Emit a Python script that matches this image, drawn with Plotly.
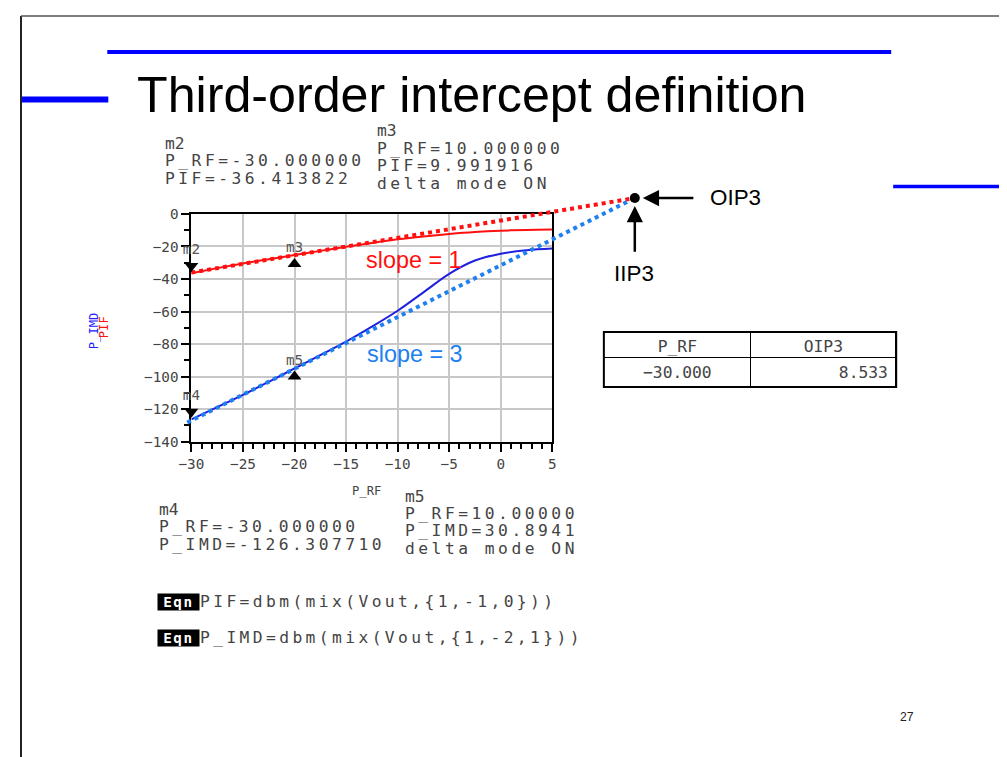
import plotly.graph_objects as go

# Figure size and the measured placement of the figure in the photographed page
FW, FH = 1007, 757
SX, SY = 0.982, 0.979        # page-pixels per figure-pixel
OFX, OFY = 20.8, 16.0        # page position of the figure origin

# ---------------- data ----------------
p_rf = [-30, -27.5, -25, -22.5, -20, -17.5, -15, -12.5, -10, -7.5, -5, -2.5, 0, 2.5, 5]
pif = [-36.4, -33.3, -30.4, -27.8, -25.3, -22.7, -20.2, -17.8, -15.6, -13.8, -12.3, -11.1, -10.3, -9.8, -9.6]
p_imd = [-126.3, -118.8, -111.2, -103.2, -95.0, -86.8, -78.5, -69.3, -59.5, -48.2, -36.8, -28.6, -24.4, -22.3, -21.3]

fit1_x = [-30.0, 13.0]
fit1_y = [-36.0, 9.8]
fit3_x = [-30.4, 13.0]
fit3_y = [-128.3, 9.8]
ip3_x = [13.0]
ip3_y = [9.8]

marker_names = ["m2", "m3", "m4", "m5"]
marker_x = [-30, -20, -30, -20]
marker_y = [-32.0, -30.7, -121.6, -100.0]
marker_symbols = ["triangle-down", "triangle-up", "triangle-down", "triangle-up"]

x_ticks = [-30, -25, -20, -15, -10, -5, 0, 5]
y_ticks = [0, -20, -40, -60, -80, -100, -120, -140]

table_header = ["P_RF", "OIP3"]
table_p_rf = [-30.000]
table_oip3 = [8.533]

m2_lines = ["m2", "P_RF=-30.000000", "PIF=-36.413822"]
m3_lines = ["m3", "P_RF=10.000000", "PIF=9.991916", "delta mode ON"]
m4_lines = ["m4", "P_RF=-30.000000", "P_IMD=-126.307710"]
m5_lines = ["m5", "P_RF=10.00000", "P_IMD=30.8941", "delta mode ON"]
eqn_lines = ["PIF=dbm(mix(Vout,{1,-1,0}))", "P_IMD=dbm(mix(Vout,{1,-2,1}))"]

title_text = "Third-order intercept definition"
page_number = "27"

# ---------------- styling / geometry ----------------
MONO = "DejaVu Sans Mono"
SANS = "Liberation Sans, Arial, sans-serif"
RED = "#ff1010"
BLUE = "#2020e0"
DOTBLUE = "#2080f0"
TXT = "#444444"

PL, PR, PT, PB = 191, 551.5, 214, 441.7      # plot frame, page pixels
EXL, EXR, EYT = 178, 665, 178                 # extended (overlay) area
sx = (PR - PL) / (x_ticks[-1] - x_ticks[0])
sy = (PB - PT) / (y_ticks[0] - y_ticks[-1])


def px(x):
    return min(max((x - OFX) / SX / FW, 0), 1)


def py(y):
    return min(max(1 - (y - OFY) / SY / FH, 0), 1)


def fs(s):
    return round(s / SX, 1)


def ads(s, ls=3.5):
    return f'<span style="letter-spacing:{ls}px">{s}</span>'


fig = go.Figure()

fig.add_trace(go.Scatter(x=p_rf, y=pif, mode="lines", line=dict(color=RED, width=2, shape="spline"),
                         xaxis="x", yaxis="y", showlegend=False))
fig.add_trace(go.Scatter(x=p_rf, y=p_imd, mode="lines", line=dict(color=BLUE, width=2, shape="spline"),
                         xaxis="x", yaxis="y", showlegend=False))

fig.add_trace(go.Scatter(x=fit1_x, y=fit1_y, mode="lines", line=dict(color=RED, width=4, dash="dot"),
                         xaxis="x2", yaxis="y2", showlegend=False))
fig.add_trace(go.Scatter(x=fit3_x, y=fit3_y, mode="lines", line=dict(color=DOTBLUE, width=4, dash="dot"),
                         xaxis="x2", yaxis="y2", showlegend=False))
fig.add_trace(go.Scatter(x=ip3_x, y=ip3_y, mode="markers", marker=dict(color="black", size=10),
                         xaxis="x2", yaxis="y2", cliponaxis=False, showlegend=False))
fig.add_trace(go.Scatter(x=marker_x, y=marker_y, mode="markers+text", text=marker_names,
                         textposition="top center",
                         textfont=dict(family=MONO, size=fs(14), color="#555555"),
                         marker=dict(color="black", size=12, symbol=marker_symbols),
                         xaxis="x2", yaxis="y2", cliponaxis=False, showlegend=False))

fig.add_trace(go.Table(
    domain=dict(x=[px(603), px(895)], y=[py(387), py(332)]),
    columnwidth=[147, 145],
    header=dict(values=table_header, height=round(25 / SY), align="center",
                line=dict(color="black", width=1), fill=dict(color="white"),
                font=dict(family=MONO, size=fs(16), color=TXT)),
    cells=dict(values=[[f"{v:.3f}".replace("-", "\u2212") for v in table_p_rf],
                       [f"{v:.3f}" for v in table_oip3]],
               height=round(30 / SY), align=["center", "right"],
               line=dict(color="black", width=1), fill=dict(color="white"),
               font=dict(family=MONO, size=fs(16), color=TXT)),
))

axis_common = dict(
    showgrid=True, gridcolor="#c8c8c8", gridwidth=2, zeroline=False,
    showline=True, linecolor="black", linewidth=2, mirror=True,
    ticks="outside", ticklen=8, tickwidth=2, tickcolor="black",
    tickfont=dict(family=MONO, size=fs(14), color=TXT),
)

fig.update_layout(
    width=FW, height=FH, margin=dict(l=0, r=0, t=0, b=0),
    paper_bgcolor="white", plot_bgcolor="rgba(0,0,0,0)",
    xaxis=dict(domain=[px(PL), px(PR)], range=[x_ticks[0], x_ticks[-1]], tickvals=x_ticks,
               minor=dict(dtick=1, ticks="outside", ticklen=5, tickwidth=1.5, tickcolor="black", showgrid=False),
               anchor="y", **axis_common),
    yaxis=dict(domain=[py(PB), py(PT)], range=[y_ticks[-1], y_ticks[0]], tickvals=y_ticks,
               minor=dict(dtick=10, ticks="outside", ticklen=5, tickwidth=1.5, tickcolor="black", showgrid=False),
               anchor="x", **axis_common),
    xaxis2=dict(domain=[px(EXL), px(EXR)],
                range=[x_ticks[0] + (EXL - PL) / sx, x_ticks[0] + (EXR - PL) / sx],
                visible=False, anchor="y2", fixedrange=True),
    yaxis2=dict(domain=[py(PB), py(EYT)],
                range=[y_ticks[-1], y_ticks[0] + (PT - EYT) / sy],
                visible=False, anchor="x2", fixedrange=True),
)

ann = []
ann.append(dict(text=title_text, x=px(135), y=py(95), xanchor="left", yanchor="middle",
                font=dict(family=SANS, size=fs(49.3), color="black")))
ann.append(dict(text=page_number, x=px(906), y=py(717), xanchor="center", yanchor="middle",
                font=dict(family=SANS, size=fs(12), color="#222222")))

ann.append(dict(text="slope = 1", x=-8.45, y=-28.5, xref="x", yref="y", xanchor="center", yanchor="middle",
                font=dict(family=SANS, size=fs(23), color=RED)))
ann.append(dict(text="slope = 3", x=-8.3, y=-85.8, xref="x", yref="y", xanchor="center", yanchor="middle",
                font=dict(family=SANS, size=fs(23), color=DOTBLUE)))

ann.append(dict(text="", x=ip3_x[0], y=ip3_y[0], xref="x2", yref="y2", showarrow=True,
                ax=59 / SX, ay=0, arrowhead=2, arrowsize=1.3, arrowwidth=2.5, arrowcolor="black", standoff=8))
ann.append(dict(text="", x=ip3_x[0], y=ip3_y[0], xref="x2", yref="y2", showarrow=True,
                ax=0, ay=54 / SY, arrowhead=2, arrowsize=1.3, arrowwidth=2.5, arrowcolor="black", standoff=8))
ann.append(dict(text="OIP3", x=px(707), y=py(198), xanchor="left", yanchor="middle",
                font=dict(family=SANS, size=fs(22), color="black")))
ann.append(dict(text="IIP3", x=px(633), y=py(274), xanchor="center", yanchor="middle",
                font=dict(family=SANS, size=fs(22), color="black")))

ann.append(dict(text="P_RF", x=px(366), y=py(491), xanchor="center", yanchor="middle",
                font=dict(family=MONO, size=fs(12), color=TXT)))
ann.append(dict(text="P_IMD", x=px(94), y=py(331), xanchor="center", yanchor="middle", textangle=-90,
                font=dict(family=MONO, size=fs(12), color="#2020ff")))
ann.append(dict(text="PIF", x=px(104), y=py(327), xanchor="center", yanchor="middle", textangle=-90,
                font=dict(family=MONO, size=fs(12), color=RED)))


def block(lines, x0, ys, size=16):
    for s, yy in zip(lines, ys):
        ann.append(dict(text=ads(s) if len(s) > 2 else s, x=px(x0), y=py(yy), xanchor="left",
                        yanchor="middle", align="left", borderpad=0,
                        font=dict(family=MONO, size=fs(size), color=TXT)))


block(m2_lines, 164, [144, 160.5, 178.5])
block(m3_lines, 375, [131, 149, 166, 184])
block(m4_lines, 158, [510, 527, 545])
block(m5_lines, 403, [497, 514, 531, 549])

for s, yy in zip(eqn_lines, [602, 638]):
    ann.append(dict(text="<b>" + ads("Eqn", 1.5) + "</b>", x=px(157), y=py(yy), xanchor="left", yanchor="middle",
                    bgcolor="black", borderpad=0, width=40 / SX, height=16 / SY,
                    font=dict(family=MONO, size=fs(14), color="white")))
    ann.append(dict(text=ads(s, 3.4), x=px(199), y=py(yy), xanchor="left", yanchor="middle", align="left",
                    borderpad=0, font=dict(family=MONO, size=fs(16), color=TXT)))

for a in ann:
    a.setdefault("xref", "paper")
    a.setdefault("yref", "paper")
    a.setdefault("showarrow", False)
fig.update_layout(annotations=ann)

shapes = [
    dict(type="line", xref="paper", yref="paper", x0=px(107), x1=px(890), y0=py(52), y1=py(52),
         line=dict(color="#0000ff", width=4)),
    dict(type="line", xref="paper", yref="paper", x0=px(8), x1=px(108), y0=py(99.5), y1=py(99.5),
         line=dict(color="#0000ff", width=6)),
    dict(type="line", xref="paper", yref="paper", x0=px(892), x1=px(1007), y0=py(186.5), y1=py(186.5),
         line=dict(color="#0000ff", width=3.5)),
    dict(type="line", xref="paper", yref="paper", x0=px(7), x1=px(7), y0=0, y1=1,
         line=dict(color="#222222", width=2)),
    dict(type="line", xref="paper", yref="paper", x0=px(7), x1=px(1007), y0=py(1), y1=py(1),
         line=dict(color="#555555", width=1.5)),
    dict(type="rect", xref="paper", yref="paper", x0=px(603), x1=px(895), y0=py(387), y1=py(332),
         line=dict(color="black", width=2)),
]
fig.update_layout(shapes=shapes)

fig.write_html("out.html")
